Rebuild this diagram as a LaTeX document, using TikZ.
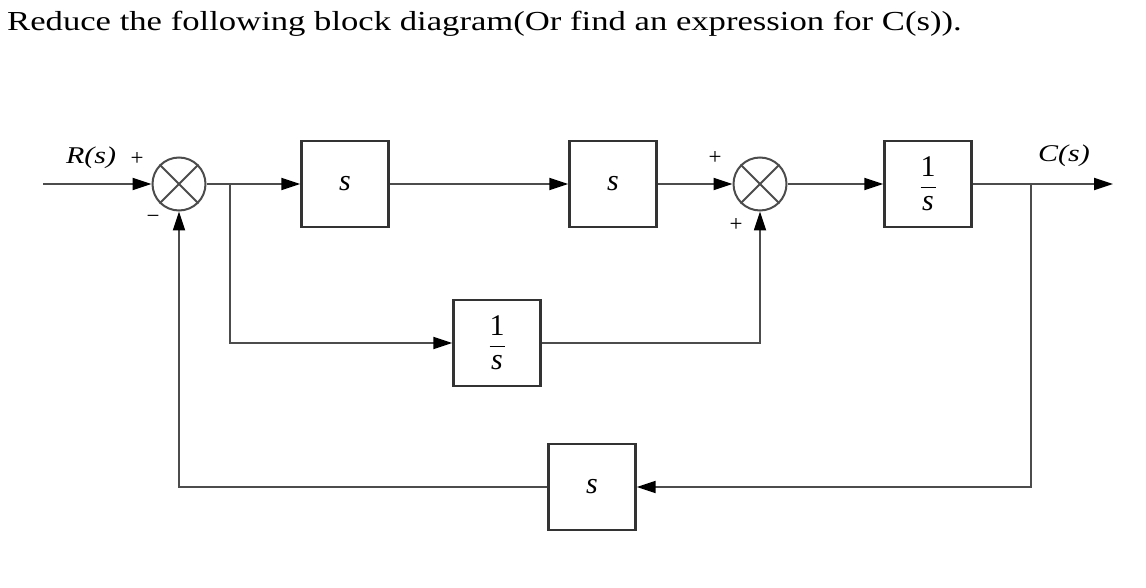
\documentclass[tikz,border=0pt]{standalone}
\usepackage{amsmath}
\usepackage{fontspec}
\setmainfont{Liberation Serif}
\newfontfamily\titlefont[FakeStretch=1.26]{Liberation Serif}
\newfontfamily\sigfont[FakeStretch=1.25]{Liberation Serif}
\usetikzlibrary{arrows.meta,positioning,calc}

\begin{document}
\begin{tikzpicture}[
  x=1pt, y=-1pt,
  blk/.style={draw=black!80, line width=2.4pt, minimum width=87pt, minimum height=86pt, inner sep=0pt, align=center, font=\fontsize{30}{32}\selectfont},
  sumj/.style={draw=black!70, line width=2pt, circle, minimum size=53pt, inner sep=0pt},
  sgn/.style={inner sep=0pt, font=\fontsize{23}{25}\selectfont},
  sig/.style={inner sep=0pt, font=\sigfont\fontsize{24}{26}\selectfont\itshape},
  wire/.style={draw=black!70, line width=1.8pt},
  arr/.style={wire, -{Triangle[length=19pt,width=12pt,color=black]}}
]
  \useasboundingbox (0,0) rectangle (1146,588);

  % question
  \node[anchor=base west, inner sep=0pt, font=\titlefont\fontsize{27.5}{30}\selectfont] (title) at (7,31)
    {Reduce the following block diagram(Or find an expression for C(s)).};

  % forward path
  \node[sumj] (sum1) at (179,184) {};
  \node[blk] (b1) at (345,184) {\textit{s}};
  \node[blk] (b2) at (613,184) {\textit{s}};
  \node[sumj] (sum2) at (760,184) {};
  \node[blk] (b3) at (928,184) {$\displaystyle\frac{\text{1}}{\textit{s}}$};
  \node[blk] (ff) at (497,343) {$\displaystyle\frac{\text{1}}{\textit{s}}$};
  \node[blk] (fb) at (592,487) {\textit{s}};

  \draw[wire] (sum1.north west) -- (sum1.south east) (sum1.north east) -- (sum1.south west);
  \draw[wire] (sum2.north west) -- (sum2.south east) (sum2.north east) -- (sum2.south west);

  \coordinate (in) at (43,184);
  \coordinate (out) at (1113,184);
  \coordinate (br1) at (230,184);
  \coordinate (br2) at (1031,184);

  % labels
  \node[sig] (rs) at (91,158) {R(s)};
  \node[sig] (cs) at (1064,156) {C(s)};
  \node[sgn] (p1) at (137,159) {+};
  \node[sgn] (m1) at (153,219) {−};
  \node[sgn] (p2) at (715,158) {+};
  \node[sgn] (p3) at (736,225) {+};

  % connectors
  \draw[arr] (in) -- (sum1.west);
  \draw[arr] (sum1.east) -- (b1.west);
  \draw[arr] (b1.east) -- (b2.west);
  \draw[arr] (b2.east) -- (sum2.west);
  \draw[arr] (sum2.east) -- (b3.west);
  \draw[arr] (b3.east) -- (out);
  \draw[arr] (br1) |- (ff.west);
  \draw[arr] (ff.east) -| (sum2.south);
  \draw[arr] (br2) |- (fb.east);
  \draw[arr] (fb.west) -| (sum1.south);
\end{tikzpicture}
\end{document}
